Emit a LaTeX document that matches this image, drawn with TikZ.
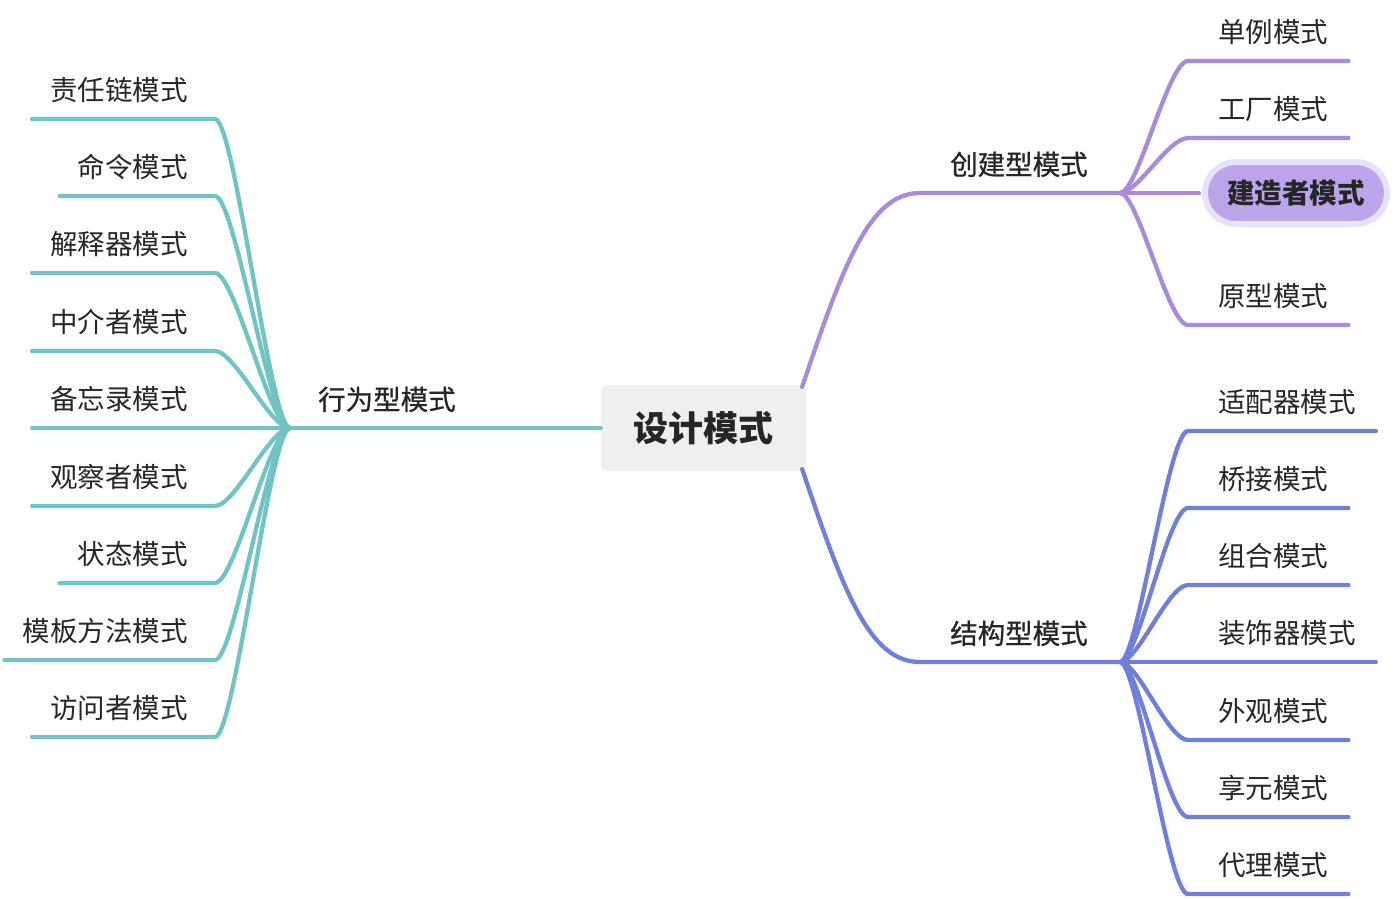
\documentclass[tikz,border=0pt]{standalone}
\usepackage{fontspec}
\setmainfont{Noto Sans CJK SC}
\newfontfamily\medfont{Noto Sans CJK SC}[FakeBold=0.8]
\definecolor{teal1}{RGB}{114,196,196}
\definecolor{purple1}{RGB}{168,140,220}
\definecolor{blue1}{RGB}{112,128,216}
\definecolor{rootfill}{RGB}{238,240,240}
\definecolor{pillfill}{RGB}{186,165,234}
\definecolor{pillring}{RGB}{232,225,248}
\definecolor{ink}{RGB}{38,38,38}
\tikzset{
    leaf/.style={inner xsep=0pt, inner ysep=18pt, text depth=0pt, text=ink,
        font=\fontsize{27.5}{30}\selectfont},
    branch/.style={leaf, font=\fontsize{27.5}{30}\selectfont\medfont},
    edge/.style={line width=4.3pt, line cap=round},
}
\begin{document}
\begin{tikzpicture}[x=1pt,y=-1pt]
            \useasboundingbox (0,0) rectangle (1398,898);

            % root
            \node[fill=rootfill, rounded corners=6pt, minimum width=205pt, minimum height=86pt,
                text=ink, font=\fontsize{35}{40}\selectfont\bfseries] (root) at (703.5,428) {设计模式};

            % behavioural
            \coordinate (jb) at (290,428);
            \node[branch, anchor=south west] (lb) at (318,428) {行为型模式};
            \draw[edge, teal1] (root.west) -- (jb);
            \foreach \i/\t/\y in {1/责任链模式/119, 2/命令模式/196, 3/解释器模式/273,
                    4/中介者模式/351, 5/备忘录模式/428, 6/观察者模式/506,
                    7/状态模式/583, 8/模板方法模式/660, 9/访问者模式/737} {
                    \node[leaf, anchor=south east] (b\i) at (188,\y) {\t};
                    \draw[edge, teal1] (jb) .. controls +(-20,0) and +(20,0) .. ([xshift=27pt]b\i.south east)
                        -- ([xshift=-18pt]b\i.south west);
                }

            % creational
            \coordinate (jc) at (1120,193);
            \node[branch, anchor=south west] (lc) at (950,193) {创建型模式};
            \draw[edge, purple1] ([xshift=-4pt,yshift=-2pt]root.north east)
                .. controls +(42,-125) and +(-50,0) .. ([xshift=-30pt]lc.south west) -- (jc);
            \foreach \i/\t/\y in {1/单例模式/61, 2/工厂模式/138, 4/原型模式/325} {
                    \node[leaf, anchor=south west] (c\i) at (1218,\y) {\t};
                    \draw[edge, purple1] (jc) .. controls +(18,0) and +(-20,0) .. ([xshift=-30pt]c\i.south west)
                        -- ([xshift=20pt]c\i.south east);
                }
            \node[fill=pillfill, draw=pillring, line width=6pt, rounded corners=31pt,
                minimum width=182pt, minimum height=62pt, text=ink,
                font=\fontsize{27.5}{30}\selectfont\bfseries] (c3) at (1296,193) {建造者模式};
            \draw[edge, purple1] (jc) -- ([xshift=-3pt]c3.west);

            % structural
            \coordinate (js) at (1120,662);
            \node[branch, anchor=south west] (ls) at (950,662) {结构型模式};
            \draw[edge, blue1] ([xshift=-4pt,yshift=2pt]root.south east)
                .. controls +(42,125) and +(-50,0) .. ([xshift=-30pt]ls.south west) -- (js);
            \foreach \i/\t/\y in {1/适配器模式/431, 2/桥接模式/508, 3/组合模式/585,
                    4/装饰器模式/662, 5/外观模式/740, 6/享元模式/817, 7/代理模式/894} {
                    \node[leaf, anchor=south west] (s\i) at (1218,\y) {\t};
                    \draw[edge, blue1] (js) .. controls +(18,0) and +(-20,0) .. ([xshift=-30pt]s\i.south west)
                        -- ([xshift=20pt]s\i.south east);
                }
        \end{tikzpicture}
\end{document}
